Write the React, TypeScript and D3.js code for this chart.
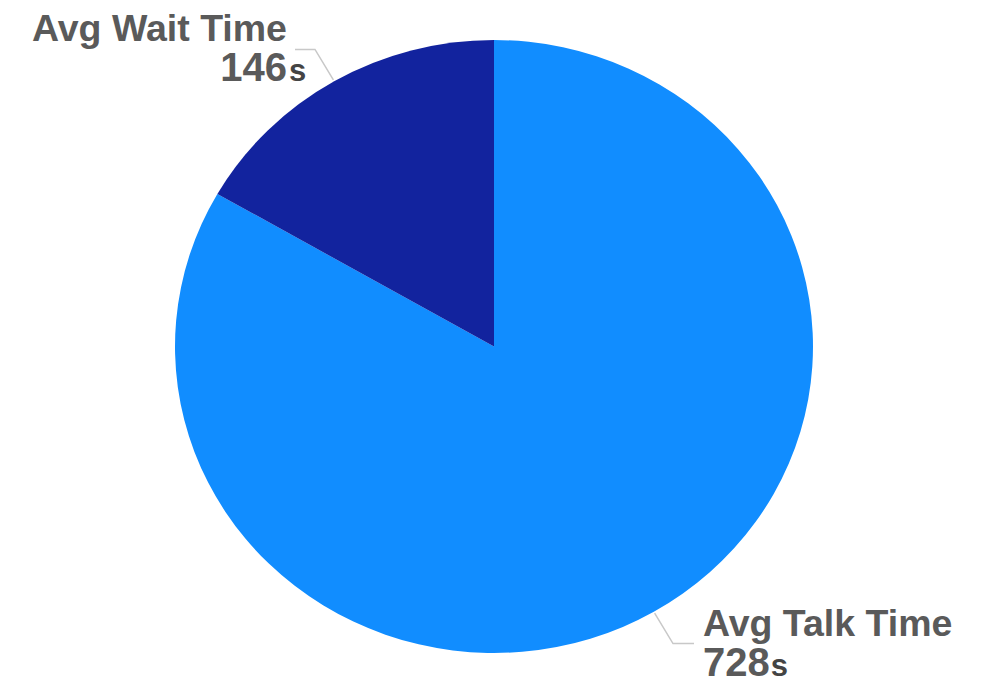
import React from "react";
import * as d3 from "d3";

const labels = ["Avg Talk Time", "Avg Wait Time"];
const values = [728, 146];
const colors = ["#118DFF", "#12239E"];
const unit = "s";

const W = 984;
const H = 681;
const cx = 494;
const cy = 346.5;
const rx = 319;
const ry = 306.5;

export default function App() {
  const pie = d3.pie<number>().sort(null).startAngle(0).endAngle(2 * Math.PI);
  const arcs = pie(values);
  const arc = d3.arc<d3.PieArcDatum<number>>().innerRadius(0).outerRadius(rx);
  const font = "'Liberation Sans', Arial, sans-serif";

  return (
    <svg width={W} height={H} style={{ position: "absolute", left: 0, top: 0 }}>
      <rect width={W} height={H} fill="#fff" />
      <g transform={`translate(${cx},${cy}) scale(1,${ry / rx})`}>
        {arcs.map((a, i) => (
          <path key={i} d={arc(a) || ""} fill={colors[i]} />
        ))}
      </g>
      {arcs.map((a, i) => {
        const mid = (a.startAngle + a.endAngle) / 2;
        const sx = Math.sin(mid);
        const sy = -Math.cos(mid);
        const p0 = [cx + rx * 1.005 * sx, cy + ry * 1.005 * sy];
        const k = 1.12;
        const p1 = [cx + rx * k * sx, cy + ry * k * sy];
        const right = sx > 0;
        const p2 = [p1[0] + (right ? 21 : -20), p1[1]];
        const tx = right ? p2[0] + 9 : p2[0] - 8;
        const anchor = right ? "start" : "end";
        const y1 = p2[1] - 8;
        const y2 = p2[1] + 32;
        const valStr = String(values[i]);
        const valW = valStr.length * 0.556 * 40;
        const sX = right ? tx + valW + 1 : tx + 2;
        return (
          <g key={i}>
            <polyline
              points={[p0, p1, p2].map((p) => p.join(",")).join(" ")}
              fill="none"
              stroke="#c8c8c8"
              strokeWidth={1.5}
            />
            <text
              x={tx}
              y={y1}
              textAnchor={anchor}
              fontFamily={font}
              fontWeight="bold"
              fontSize={37.5}
              fill="#5a5a5a"
            >
              {labels[i]}
            </text>
            <text
              x={tx}
              y={y2}
              textAnchor={anchor}
              fontFamily={font}
              fontWeight="bold"
              fontSize={40}
              fill="#5a5a5a"
            >
              {valStr}
            </text>
            <text
              x={sX}
              y={y2}
              textAnchor="start"
              fontFamily={font}
              fontWeight="bold"
              fontSize={31}
              fill="#444"
            >
              {unit}
            </text>
          </g>
        );
      })}
    </svg>
  );
}
